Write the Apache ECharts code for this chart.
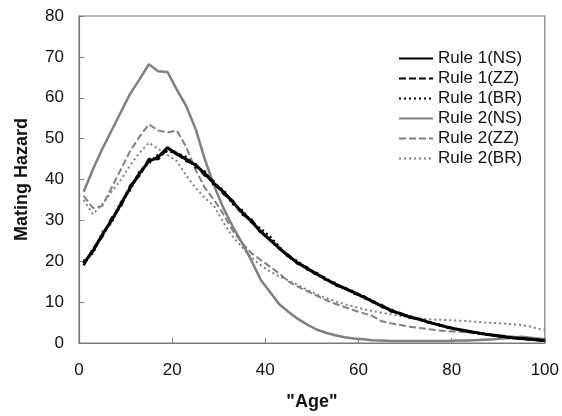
<!DOCTYPE html>
<html>
<head>
<meta charset="utf-8">
<script src="https://cdn.jsdelivr.net/npm/echarts@6/dist/echarts.min.js"></script>
<style>
    html, body { margin: 0; padding: 0; background: #fff; }
    #chart-mating-hazard { width: 562px; height: 416px; }
</style>
</head>
<body>
<div id="chart-mating-hazard"></div>
<script>
// "Age" grid, one value per point in every series below
let ages = [1, 3, 5, 7, 9, 11, 13, 15, 17, 19, 21, 23, 25, 27, 29, 31, 33, 35, 37, 39,
    41, 43, 45, 47, 49, 51, 53, 55, 57, 59, 61, 63, 65, 67, 69, 71, 73, 75, 77, 79,
    81, 83, 85, 87, 89, 91, 93, 95, 97, 99, 100];

let rule1NS = [19.5, 22.5, 26.5, 30, 34, 38, 41.5, 44.5, 45.5, 47.8, 46.2, 45, 43.5, 41.5, 39, 37, 34.5, 32, 29.8, 27.3,
    25.2, 23.2, 21.2, 19.6, 18.2, 16.9, 15.6, 14.4, 13.4, 12.4, 11.3, 10.2, 9, 8, 7.1, 6.4, 5.8, 5.1, 4.5, 3.9,
    3.4, 3, 2.6, 2.2, 1.9, 1.6, 1.3, 1.1, 0.9, 0.7, 0.6];
let rule1ZZ = [19, 23, 26, 30.5, 33.5, 38.5, 41, 45, 45, 47.5, 46.5, 44.5, 43.8, 41, 39.5, 36.5, 34.8, 31.5, 30.2, 27,
    25.5, 23, 21.5, 19.3, 18.5, 16.6, 15.9, 14.1, 13.6, 12.1, 11.6, 10, 9.3, 7.7, 7.3, 6.2, 5.9, 5, 4.6, 3.8,
    3.5, 2.9, 2.6, 2.1, 1.9, 1.5, 1.3, 1, 0.9, 0.7, 0.6];
let rule1BR = [20, 22, 27, 29.5, 34.5, 37.5, 42, 44, 46, 47, 46.5, 45.5, 43, 42, 38.5, 37.5, 34, 32.5, 29.5, 28,
    26, 23.5, 21, 20, 18, 17.2, 15.4, 14.7, 13.2, 12.6, 11.1, 10.4, 8.8, 8.2, 7, 6.6, 5.7, 5.2, 4.4, 4,
    3.3, 3.1, 2.5, 2.3, 1.8, 1.7, 1.2, 1.1, 0.8, 0.8, 0.6];
let rule2NS = [37, 42.5, 47.5, 52, 56.5, 61, 64.5, 68.2, 66.5, 66.3, 62, 58, 52.5, 45, 38.5, 33, 28.5, 24.5, 20.2, 15.5,
    12.5, 9.5, 7.6, 5.9, 4.5, 3.3, 2.5, 1.9, 1.4, 1.1, 0.9, 0.7, 0.6, 0.5, 0.5, 0.5, 0.5, 0.5, 0.5, 0.5,
    0.6, 0.6, 0.7, 0.8, 0.9, 1.1, 1.3, 1.5, 1.3, 1, 0.9];
let rule2ZZ = [36, 33, 33.5, 38, 42.5, 47, 50.5, 53.5, 52, 51.5, 52, 48, 42.5, 38, 35, 31.5, 27.5, 24.5, 22, 20.3,
    18.7, 17, 15, 13.8, 12.7, 11.6, 10.5, 9.6, 8.8, 8, 7.3, 6.6, 5.3, 4.8, 4.4, 4, 3.7, 3.4, 3.1, 2.9,
    2.8, 2.6, 2.4, 2.2, 2, 1.8, 1.6, 1.4, 1.2, 1.1, 1];
let rule2BR = [35, 31.5, 34, 37, 40, 43.5, 46.5, 49, 47.5, 46, 44.5, 41, 38, 35.5, 33.5, 29.5, 26, 23.5, 21, 19,
    17.5, 16.3, 15.3, 14.2, 13, 12, 11, 10.2, 9.5, 8.9, 8.3, 7.8, 7.4, 7, 6.6, 6.3, 6, 5.8, 5.7, 5.6,
    5.5, 5.4, 5.2, 5, 4.9, 4.8, 4.6, 4.4, 4, 3.4, 3.2];

let xTicks = [0, 20, 40, 60, 80, 100];
let yTicks = [0, 10, 20, 30, 40, 50, 60, 70, 80];

let myChart = echarts.init(document.getElementById("chart-mating-hazard"), null, { renderer: "canvas" });

function pairs(values) {
    return ages.map((a, i) => [a, values[i]]);
}

function lineSeries(name, values, color, width, type, z) {
    return {
        name: name,
        type: "line",
        data: pairs(values),
        symbol: "none",
        smooth: false,
        z: z,
        lineStyle: { color: color, width: width, type: type },
        itemStyle: { color: color },
    };
}

let fontFamily = '"Liberation Sans", Arial, sans-serif';
let axisGray = "#7a7a7a";

let option = {
    animation: false,
    textStyle: { fontFamily: fontFamily },
    grid: {
        left: 79,
        right: 15,
        top: 16,
        bottom: 73,
        show: true,
        borderColor: axisGray,
        borderWidth: 1.2,
    },
    legend: {
        orient: "vertical",
        left: 393,
        top: 45,
        itemWidth: 34,
        itemHeight: 14,
        itemGap: 3,
        // hide the marker dot, keep the line sample
        itemStyle: { opacity: 0 },
        textStyle: { fontSize: 17, color: "#111", fontFamily: fontFamily },
        data: ["Rule 1(NS)", "Rule 1(ZZ)", "Rule 1(BR)", "Rule 2(NS)", "Rule 2(ZZ)", "Rule 2(BR)"],
    },
    xAxis: {
        type: "value",
        min: xTicks[0],
        max: xTicks[xTicks.length - 1],
        interval: 20,
        name: '"Age"',
        nameLocation: "middle",
        nameGap: 50,
        nameTextStyle: { fontSize: 18, fontWeight: "bold", color: "#111" },
        axisLine: { show: true, lineStyle: { color: axisGray, width: 1.2 } },
        axisTick: { show: true, inside: true, length: 5, lineStyle: { color: axisGray } },
        axisLabel: { fontSize: 17, color: "#111", margin: 19 },
        splitLine: { show: false },
    },
    yAxis: {
        type: "value",
        min: yTicks[0],
        max: yTicks[yTicks.length - 1],
        interval: 10,
        name: "Mating Hazard",
        nameLocation: "middle",
        nameGap: 48,
        nameTextStyle: { fontSize: 18, fontWeight: "bold", color: "#111" },
        axisLine: { show: true, lineStyle: { color: axisGray, width: 1.2 } },
        axisTick: { show: true, inside: true, length: 5, lineStyle: { color: axisGray } },
        axisLabel: { fontSize: 17, color: "#111", margin: 15 },
        splitLine: { show: false },
    },
    series: [
        lineSeries("Rule 1(NS)", rule1NS, "#000000", 3, "solid", 6),
        lineSeries("Rule 1(ZZ)", rule1ZZ, "#000000", 2.5, [7, 3], 5),
        lineSeries("Rule 1(BR)", rule1BR, "#000000", 2.5, [2, 3], 4),
        lineSeries("Rule 2(NS)", rule2NS, "#808080", 2.5, "solid", 3),
        lineSeries("Rule 2(ZZ)", rule2ZZ, "#808080", 2, [7, 3], 2),
        lineSeries("Rule 2(BR)", rule2BR, "#808080", 2, [2, 3], 1),
    ],
};
option && myChart.setOption(option);
</script>
</body>
</html>
